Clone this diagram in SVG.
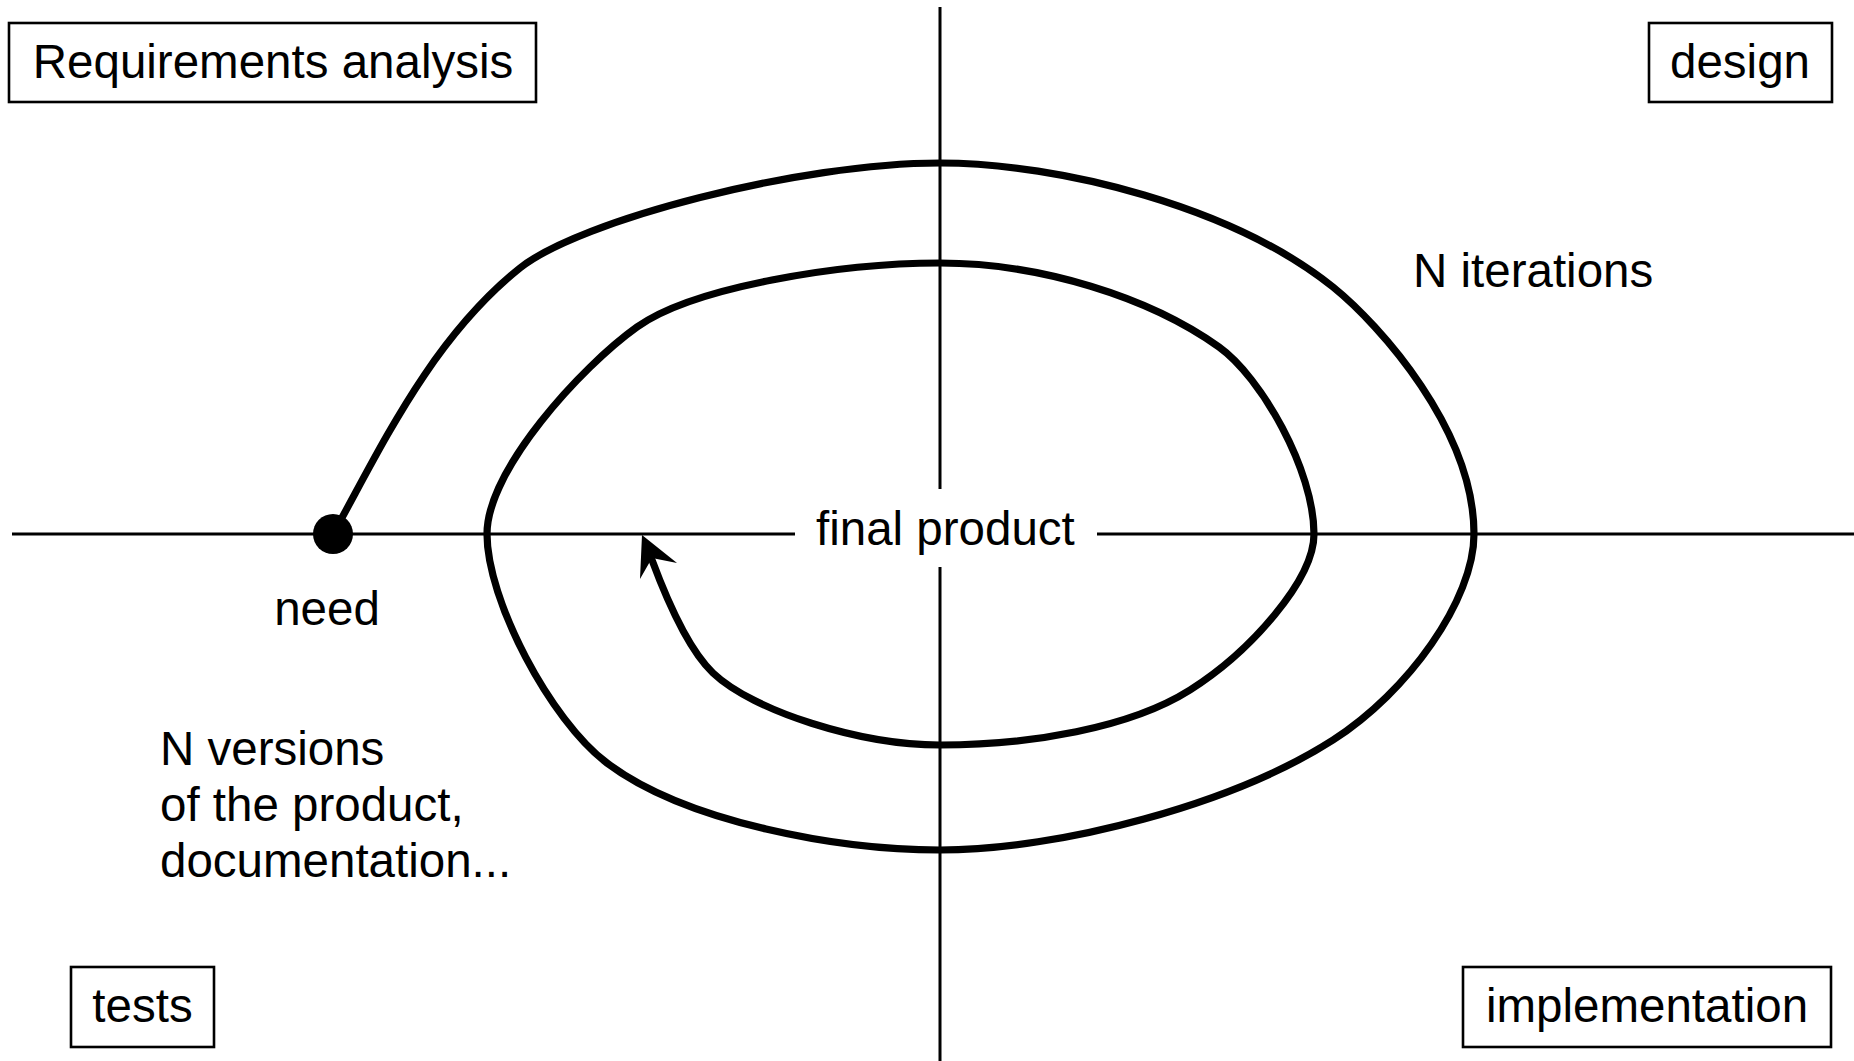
<svg xmlns="http://www.w3.org/2000/svg" width="1854" height="1061" viewBox="0 0 1854 1061">
  <style>
    .box { fill: #ffffff; stroke: #000000; stroke-width: 2.6; }
    .lbl { font-family: "Liberation Sans", Arial, sans-serif; font-size: 47.5px; fill: #000000; }
    .mid { text-anchor: middle; }
    .axis { stroke: #000000; stroke-width: 3; fill: none; }
    .spiral { stroke: #000000; stroke-width: 7.2; fill: none; stroke-linecap: round; stroke-linejoin: round; }
  </style>
  <rect width="1854" height="1061" fill="#ffffff"/>

  <g id="axes">
    <line class="axis" x1="12" y1="534" x2="795" y2="534"/>
    <line class="axis" x1="1097" y1="534" x2="1854" y2="534"/>
    <line class="axis" x1="940" y1="7" x2="940" y2="489"/>
    <line class="axis" x1="940" y1="567" x2="940" y2="1061"/>
  </g>

  <g id="connectors">
    <path class="spiral" d="M333,534 C380,450 430,340 520,268 C580,220 800,163 940,163 C1060,163 1233,207 1333,287 C1380,325 1474,430 1474,534 C1474,600 1408,692 1333,740 C1233,804 1060,850 940,850 C840,850 687,823 607,763 C550,720 487,600 487,534 C487,470 581,367 637,327 C693,287 840,263 940,263 C1040,263 1149,297 1219,347 C1261,377 1314,470 1314,534 C1314,580 1250,652 1190,690 C1130,728 1030,745 940,745 C860,745 753,711 713,673 C688,649 665,595 652,560"/>
    <polygon points="642,535 677,563 652,558 640,579" fill="#000000"/>
  </g>

  <g id="need-dot">
    <circle cx="333" cy="534" r="20" fill="#000000"/>
  </g>

  <g id="node-requirements">
    <rect class="box" x="9" y="23" width="527" height="79"/>
    <text class="lbl mid" x="273" y="78">Requirements analysis</text>
  </g>
  <g id="node-design">
    <rect class="box" x="1649" y="23" width="183" height="79"/>
    <text class="lbl mid" x="1740" y="78">design</text>
  </g>
  <g id="node-tests">
    <rect class="box" x="71" y="967" width="143" height="80"/>
    <text class="lbl mid" x="142.5" y="1022">tests</text>
  </g>
  <g id="node-implementation">
    <rect class="box" x="1463" y="967" width="368" height="80"/>
    <text class="lbl mid" x="1647" y="1022">implementation</text>
  </g>

  <g id="label-final-product">
    <text class="lbl" x="816" y="545">final product</text>
  </g>
  <g id="label-need">
    <text class="lbl mid" x="327" y="625">need</text>
  </g>
  <g id="label-iterations">
    <text class="lbl" x="1413" y="287">N iterations</text>
  </g>
  <g id="label-versions">
    <text class="lbl" x="160" y="765">N versions</text>
    <text class="lbl" x="160" y="821">of the product,</text>
    <text class="lbl" x="160" y="877">documentation...</text>
  </g>
</svg>
